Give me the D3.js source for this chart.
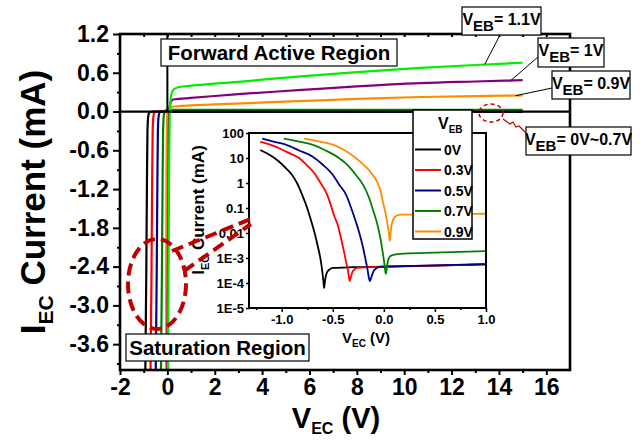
<!DOCTYPE html>
<html>
<head>
<meta charset="utf-8">
<script src="https://cdn.jsdelivr.net/npm/d3@7"></script>
<style>
  body { margin: 0; background: #fff; }
  text { font-family: "Liberation Sans", Arial, sans-serif; font-weight: bold; fill: #000; }
</style>
</head>
<body>
<svg id="chart" width="643" height="441"></svg>
<script>
// ---- main plot data (V_EC in V, I_EC in mA) ----
const mainXTicks = [-2, 0, 2, 4, 6, 8, 10, 12, 14, 16];
const mainYTicks = [1.2, 0.6, 0.0, -0.6, -1.2, -1.8, -2.4, -3.0, -3.6];

const main0V  = [[-0.93,-4.0],[-0.89,-2.5],[-0.86,-1.0],[-0.84,-0.3],[-0.81,-0.08],[-0.76,-0.01],[-0.6,0],[15,0]];
const main03V = [[-0.71,-4.0],[-0.67,-2.5],[-0.64,-1.0],[-0.62,-0.3],[-0.59,-0.08],[-0.54,-0.01],[-0.4,0],[15,0]];
const main05V = [[-0.49,-4.0],[-0.45,-2.5],[-0.42,-1.0],[-0.40,-0.3],[-0.37,-0.08],[-0.32,-0.01],[-0.2,0],[15,0]];
const main07V = [[-0.27,-4.0],[-0.23,-2.5],[-0.20,-1.0],[-0.18,-0.3],[-0.15,-0.06],[-0.10,0.01],[0,0.025],[15,0.025]];
const main09V = [[-0.06,-4.0],[-0.04,-1.0],[0.0,0.0],[0.06,0.05],[0.15,0.07],[0.4,0.08],[2,0.11],[5.5,0.16],[8,0.195],[10.7,0.225],[13,0.24],[15,0.248]];
const main10V = [[0.0,-4.0],[0.04,-1.0],[0.08,0.0],[0.12,0.12],[0.18,0.17],[0.3,0.19],[1,0.21],[3,0.27],[5.5,0.33],[8,0.39],[10.7,0.44],[13,0.465],[15,0.485]];
const main11V = [[0.03,-4.0],[0.07,-1.0],[0.1,0.0],[0.14,0.2],[0.2,0.3],[0.3,0.35],[0.5,0.38],[1,0.4],[3,0.46],[5.5,0.54],[8,0.61],[10.7,0.675],[13,0.72],[15,0.755]];

// ---- inset data (|I_EC| in mA, log scale) ----
const insetXTicks = [-1.0, -0.5, 0.0, 0.5, 1.0];
const insetYTicks = [100, 10, 1, 0.1, 0.01, 1e-3, 1e-4, 1e-5];
const insetYLabels = ["100", "10", "1", "0.1", "0.01", "1E-3", "1E-4", "1E-5"];

const inset0V  = [[-1.21,21],[-1.1,12],[-1.03,7.4],[-0.95,3.6],[-0.9,2.15],[-0.85,1.0],[-0.8,0.34],[-0.76,0.13],[-0.72,0.04],[-0.68,0.011],[-0.65,3.4e-3],[-0.62,9e-4],[-0.605,3.5e-4],[-0.592,1.2e-4],[-0.585,6.3e-5],[-0.575,1.3e-4],[-0.56,2.5e-4],[-0.53,3.5e-4],[-0.5,4e-4],[-0.3,4.3e-4],[0,4.5e-4],[0.5,5e-4],[1.0,5.6e-4]];
const inset03V = [[-1.21,44],[-1.1,33],[-1.03,25],[-0.93,16],[-0.83,10],[-0.75,5],[-0.67,2.15],[-0.62,1.0],[-0.57,0.46],[-0.53,0.18],[-0.49,0.054],[-0.45,0.02],[-0.42,6.3e-3],[-0.39,1.8e-3],[-0.37,7e-4],[-0.35,3e-4],[-0.335,1.2e-4],[-0.325,1.6e-4],[-0.31,2.6e-4],[-0.29,3.4e-4],[-0.26,4e-4],[0,4.5e-4],[0.5,5e-4],[1.0,5.6e-4]];
const inset05V = [[-1.19,59],[-1.08,45],[-0.96,34],[-0.83,20],[-0.7,11.5],[-0.6,5.5],[-0.5,2.15],[-0.44,0.9],[-0.37,0.34],[-0.32,0.1],[-0.275,0.029],[-0.24,0.01],[-0.21,3.4e-3],[-0.18,9e-4],[-0.16,3.5e-4],[-0.145,1.5e-4],[-0.137,1.2e-4],[-0.125,1.6e-4],[-0.1,3e-4],[-0.07,4e-4],[-0.04,4.4e-4],[0.3,4.8e-4],[0.7,5.3e-4],[1.0,5.7e-4]];
const inset07V = [[-0.98,59],[-0.84,46],[-0.7,34],[-0.57,20],[-0.44,10],[-0.35,5],[-0.275,2.15],[-0.2,0.8],[-0.144,0.25],[-0.1,0.07],[-0.062,0.021],[-0.035,6.5e-3],[-0.013,1.9e-3],[0.005,6e-4],[0.015,2.8e-4],[0.02,2.3e-4],[0.03,4.5e-4],[0.045,9e-4],[0.065,1.2e-3],[0.1,1.35e-3],[0.2,1.5e-3],[0.5,1.65e-3],[1.0,1.9e-3]];
const inset09V = [[-0.78,59],[-0.64,46],[-0.5,34],[-0.38,20],[-0.275,10],[-0.19,5],[-0.11,2.15],[-0.06,1.0],[-0.03,0.46],[-0.01,0.18],[0.013,0.074],[0.036,0.021],[0.05,0.01],[0.059,4.9e-3],[0.066,0.01],[0.08,0.025],[0.1,0.04],[0.13,0.05],[0.167,0.054],[0.4,0.056],[0.7,0.058],[1.0,0.059]];

const legendNames = ["0V", "0.3V", "0.5V", "0.7V", "0.9V"];
const colors = { k: "#000000", r: "#ff0000", b: "#00008b", g: "#008000", o: "#ff8c00", p: "#800080", lg: "#00ee00" };
const darkRed = "#c00000";

const svg = d3.select("#chart");
svg.append("rect").attr("width", 643).attr("height", 441).attr("fill", "#fff");

// ---- main scales ----
const x = d3.scaleLinear().domain([-2, 17]).range([120, 570]);
const y = d3.scaleLinear().domain([-4.0, 1.2]).range([370, 34]);

svg.append("clipPath").attr("id", "mainClip")
  .append("rect").attr("x", 120).attr("y", 34).attr("width", 450).attr("height", 336);

const mainLine = d3.line().x(d => x(d[0])).y(d => y(d[1])).curve(d3.curveMonotoneX);
const plot = svg.append("g").attr("clip-path", "url(#mainClip)");

const mainSeries = [
  [main0V, colors.k], [main03V, colors.r], [main05V, colors.b], [main07V, colors.g],
  [main09V, colors.o], [main10V, colors.p], [main11V, colors.lg]
];
mainSeries.forEach(([data, c]) => {
  plot.append("path").datum(data).attr("d", mainLine)
    .attr("fill", "none").attr("stroke", c).attr("stroke-width", 2.2);
});

// zero lines
plot.append("line").attr("x1", 120).attr("x2", 570).attr("y1", y(0)).attr("y2", y(0))
  .attr("stroke", "#000").attr("stroke-width", 2.2);
plot.append("line").attr("x1", x(0)).attr("x2", x(0)).attr("y1", 34).attr("y2", y(0))
  .attr("stroke", "#000").attr("stroke-width", 2);

// ---- main axes ----
const fmt1 = d3.format(".1f");
const xAxis = svg.append("g").attr("transform", "translate(0,370)")
  .call(d3.axisBottom(x).tickValues(mainXTicks).tickSize(5).tickPadding(4).tickFormat(d => d));
const xMinor = svg.append("g").attr("transform", "translate(0,370)")
  .call(d3.axisBottom(x).tickValues(d3.range(-1, 17, 2)).tickSize(3).tickFormat(""));
const yAxis = svg.append("g").attr("transform", "translate(120,0)")
  .call(d3.axisLeft(y).tickValues(mainYTicks).tickSize(7).tickPadding(4).tickFormat(d => fmt1(d).replace("−", "-")));
const yMinor = svg.append("g").attr("transform", "translate(120,0)")
  .call(d3.axisLeft(y).tickValues([0.9, 0.3, -0.3, -0.9, -1.5, -2.1, -2.7, -3.3, -3.9]).tickSize(3).tickFormat(""));
const topTicks = svg.append("g").attr("transform", "translate(0,34)")
  .call(d3.axisBottom(x).tickValues(d3.range(-1, 17, 1)).tickSize(3).tickFormat(""));

[xAxis, xMinor, yAxis, yMinor, topTicks].forEach(g => {
  g.select(".domain").remove();
  g.selectAll(".tick line").attr("stroke", "#000").attr("stroke-width", 2);
});
xAxis.selectAll("text").attr("font-size", 23).attr("font-family", "Liberation Sans, Arial, sans-serif").attr("font-weight", "bold");
yAxis.selectAll("text").attr("font-size", 23).attr("font-family", "Liberation Sans, Arial, sans-serif").attr("font-weight", "bold");

svg.append("rect").attr("x", 120).attr("y", 34).attr("width", 450).attr("height", 336)
  .attr("fill", "none").attr("stroke", "#000").attr("stroke-width", 2.6);

// axis titles
const yTitle = svg.append("text").attr("transform", "translate(45,202) rotate(-90)")
  .attr("text-anchor", "middle").attr("font-size", 35);
yTitle.append("tspan").text("I");
yTitle.append("tspan").attr("font-size", 21).attr("dy", 8).text("EC");
yTitle.append("tspan").attr("dy", -8).text(" Current (mA)");

const xTitle = svg.append("text").attr("x", 336).attr("y", 428)
  .attr("text-anchor", "middle").attr("font-size", 29);
xTitle.append("tspan").text("V");
xTitle.append("tspan").attr("font-size", 16).attr("dy", 6).text("EC");
xTitle.append("tspan").attr("dy", -6).text(" (V)");

// ---- inset ----
const ix = d3.scaleLinear().domain([-1.32, 1.0]).range([249, 486]);
const iy = d3.scaleLog().domain([1e-5, 100]).range([308, 133]);

svg.append("rect").attr("x", 249).attr("y", 133).attr("width", 237).attr("height", 175).attr("fill", "#fff");
svg.append("clipPath").attr("id", "insetClip")
  .append("rect").attr("x", 249).attr("y", 133).attr("width", 237).attr("height", 175);

const insetLine = d3.line().x(d => ix(d[0])).y(d => iy(d[1])).curve(d3.curveMonotoneX);
const insetPlot = svg.append("g").attr("clip-path", "url(#insetClip)");
const insetSeries = [[inset0V, colors.k], [inset03V, colors.r], [inset05V, colors.b], [inset07V, colors.g], [inset09V, colors.o]];
insetSeries.forEach(([data, c]) => {
  insetPlot.append("path").datum(data).attr("d", insetLine)
    .attr("fill", "none").attr("stroke", c).attr("stroke-width", 1.8);
});

const ixAxis = svg.append("g").attr("transform", "translate(0,308)")
  .call(d3.axisBottom(ix).tickValues(insetXTicks).tickSize(4).tickPadding(3).tickFormat(d => fmt1(d).replace("−", "-")));
const ixMinor = svg.append("g").attr("transform", "translate(0,308)")
  .call(d3.axisBottom(ix).tickValues([-1.25, -0.75, -0.25, 0.25, 0.75]).tickSize(2).tickFormat(""));
const iyAxis = svg.append("g").attr("transform", "translate(249,0)")
  .call(d3.axisLeft(iy).tickValues(insetYTicks).tickSize(3).tickPadding(2).tickFormat((d, i) => insetYLabels[i]));
[ixAxis, ixMinor, iyAxis].forEach(g => {
  g.select(".domain").remove();
  g.selectAll(".tick line").attr("stroke", "#000").attr("stroke-width", 1.5);
  g.selectAll("text").attr("font-size", 13).attr("font-family", "Liberation Sans, Arial, sans-serif").attr("font-weight", "bold");
});
svg.append("rect").attr("x", 249).attr("y", 133).attr("width", 237).attr("height", 175)
  .attr("fill", "none").attr("stroke", "#000").attr("stroke-width", 2);

const iyTitle = svg.append("text").attr("transform", "translate(204,210) rotate(-90)")
  .attr("text-anchor", "middle").attr("font-size", 17);
iyTitle.append("tspan").text("I");
iyTitle.append("tspan").attr("font-size", 11).attr("dy", 5).text("EC");
iyTitle.append("tspan").attr("dy", -5).text(" Current (mA)");

const ixTitle = svg.append("text").attr("x", 366).attr("y", 343)
  .attr("text-anchor", "middle").attr("font-size", 15);
ixTitle.append("tspan").text("V");
ixTitle.append("tspan").attr("font-size", 10).attr("dy", 4).text("EC");
ixTitle.append("tspan").attr("dy", -4).text(" (V)");

// inset legend
const legend = svg.append("g");
legend.append("rect").attr("x", 413).attr("y", 110).attr("width", 59).attr("height", 129)
  .attr("fill", "#fff").attr("stroke", "#000").attr("stroke-width", 1.5);
const legTitle = legend.append("text").attr("x", 438).attr("y", 129).attr("font-size", 16);
legTitle.append("tspan").text("V");
legTitle.append("tspan").attr("font-size", 10).attr("dy", 4).text("EB");
legendNames.forEach((name, i) => {
  const ly = 149.5 + i * 20.5;
  legend.append("line").attr("x1", 415).attr("x2", 441).attr("y1", ly).attr("y2", ly)
    .attr("stroke", insetSeries[i][1]).attr("stroke-width", 2);
  legend.append("text").attr("x", 444).attr("y", ly + 5).attr("font-size", 14).text(name);
});

// ---- annotation boxes ----
function boxLabel(x0, y0, w, h, fs, label) {
  svg.append("rect").attr("x", x0).attr("y", y0).attr("width", w).attr("height", h)
    .attr("fill", "#fff").attr("stroke", "#000").attr("stroke-width", 1.2);
  svg.append("text").attr("x", x0 + w / 2).attr("y", y0 + h / 2 + fs * 0.36)
    .attr("text-anchor", "middle").attr("font-size", fs).text(label);
}
boxLabel(161, 39, 236, 27, 20.5, "Forward Active Region");
boxLabel(126, 334, 183, 27, 20.5, "Saturation Region");

function vebLabel(x0, y0, w, h, value) {
  svg.append("rect").attr("x", x0).attr("y", y0).attr("width", w).attr("height", h)
    .attr("fill", "#fff").attr("stroke", "#000").attr("stroke-width", 1.2);
  const t = svg.append("text").attr("x", x0 + w / 2).attr("y", y0 + 18)
    .attr("text-anchor", "middle").attr("font-size", 16);
  t.append("tspan").text("V");
  t.append("tspan").attr("font-size", 15).attr("dy", 6).text("EB");
  t.append("tspan").attr("dy", -6).text("= " + value);
}
function leader(x1, y1, x2, y2, c) {
  svg.append("line").attr("x1", x1).attr("y1", y1).attr("x2", x2).attr("y2", y2)
    .attr("stroke", c || "#000").attr("stroke-width", 1);
}
leader(500, 35, x(13.4), y(0.73));
leader(538, 57, x(14.5), y(0.48));
leader(552, 88, x(14.7), y(0.245));
vebLabel(462, 7, 79, 28, "1.1V");
vebLabel(538, 38, 66, 29, "1V");
vebLabel(552, 71, 78, 28, "0.9V");
vebLabel(526, 127, 105, 28, "0V~0.7V");

// small dashed ellipse near the zero line
svg.append("ellipse").attr("cx", 491).attr("cy", 113).attr("rx", 12).attr("ry", 9)
  .attr("fill", "none").attr("stroke", darkRed).attr("stroke-width", 1.5).attr("stroke-dasharray", "4,3");
svg.append("path").attr("d", "M503,119 L510,124 L513,122 L516,127 L519,126 L526,133")
  .attr("fill", "none").attr("stroke", darkRed).attr("stroke-width", 1.2);

// big dashed ellipse and zoom lines
svg.append("ellipse").attr("cx", 157).attr("cy", 284).attr("rx", 29).attr("ry", 45)
  .attr("fill", "none").attr("stroke", darkRed).attr("stroke-width", 4).attr("stroke-dasharray", "12,6");
svg.append("line").attr("x1", 172).attr("y1", 251).attr("x2", 251).attr("y2", 219)
  .attr("stroke", darkRed).attr("stroke-width", 4).attr("stroke-dasharray", "12,6");
svg.append("line").attr("x1", 184).attr("y1", 271).attr("x2", 251).attr("y2", 224)
  .attr("stroke", darkRed).attr("stroke-width", 4).attr("stroke-dasharray", "12,6");
</script>
</body>
</html>
